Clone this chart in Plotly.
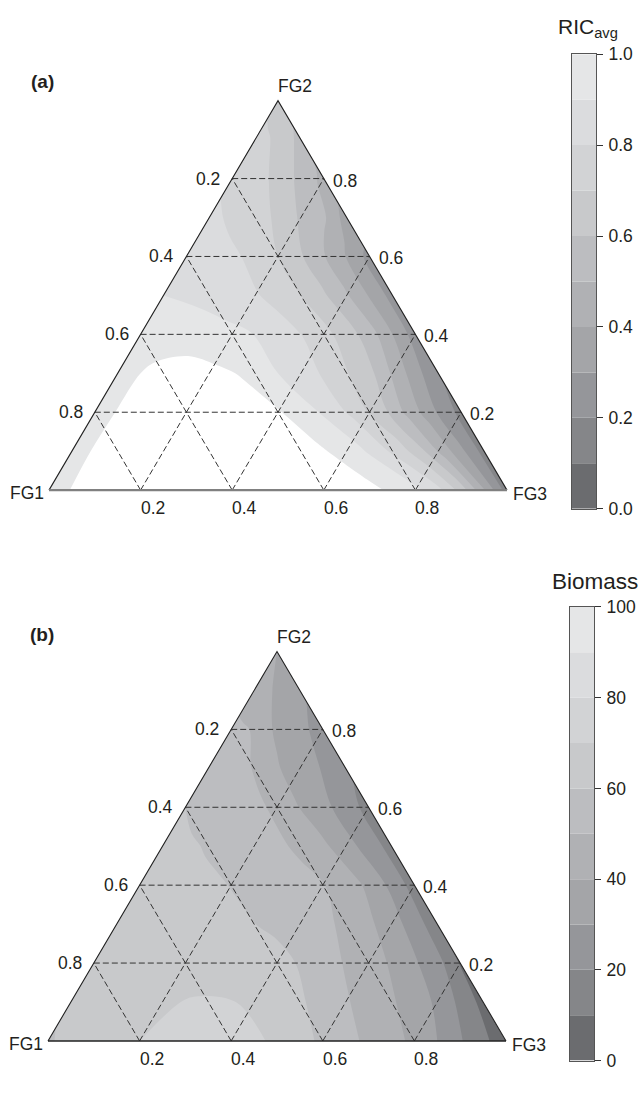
import numpy as np
import plotly.graph_objects as go

# ---------------- data ----------------
# ternary sampling grid: rows = FG2 share, columns = FG3 / (FG1 + FG3)
fg2_rows = [0.0, 0.1, 0.2, 0.3, 0.4, 0.5, 0.6, 0.7, 0.8, 0.9, 1.0]
fg3_frac_cols = [0.0, 0.1, 0.2, 0.3, 0.4, 0.5, 0.6, 0.7, 0.8, 0.85, 0.9, 0.95, 1.0]

# panel (a): RIC_avg (values > 1.0 appear white)
ric_avg = [
    [0.95, 1.06, 1.08, 1.08, 1.08, 1.07, 1.05, 1.03, 0.93, 0.83, 0.66, 0.41, 0.15],
    [0.95, 1.06, 1.08, 1.08, 1.07, 1.05, 1.02, 0.92, 0.742, 0.618, 0.46, 0.31, 0.16],
    [0.95, 1.04, 1.05, 1.05, 1.04, 1.01, 0.91, 0.78, 0.60, 0.48, 0.375, 0.26, 0.17],
    [0.95, 1.02, 1.04, 1.02, 0.99, 0.90, 0.83, 0.725, 0.60, 0.50, 0.40, 0.30, 0.21],
    [0.93, 0.95, 0.95, 0.93, 0.905, 0.85, 0.79, 0.70, 0.59, 0.52, 0.43, 0.34, 0.25],
    [0.90, 0.89, 0.87, 0.845, 0.81, 0.765, 0.70, 0.615, 0.51, 0.455, 0.39, 0.32, 0.27],
    [0.86, 0.84, 0.82, 0.80, 0.75, 0.70, 0.63, 0.55, 0.465, 0.42, 0.37, 0.31, 0.28],
    [0.82, 0.80, 0.78, 0.75, 0.72, 0.68, 0.62, 0.57, 0.52, 0.50, 0.45, 0.40, 0.37],
    [0.78, 0.77, 0.75, 0.73, 0.70, 0.67, 0.63, 0.59, 0.55, 0.53, 0.51, 0.49, 0.45],
    [0.74, 0.73, 0.715, 0.705, 0.69, 0.67, 0.65, 0.63, 0.61, 0.60, 0.59, 0.58, 0.57],
    [0.66, 0.66, 0.66, 0.66, 0.66, 0.66, 0.66, 0.66, 0.66, 0.66, 0.66, 0.66, 0.66],
]

# panel (b): Biomass
biomass = [
    [59, 66, 70, 74, 73, 69, 58, 48, 38, 30, 21, 12, 5],
    [62, 66, 69, 70.5, 70, 67, 57, 48, 39, 33, 27, 16, 7],
    [65, 66, 67, 67, 66, 63, 57, 48, 40, 35, 28, 21, 9],
    [65, 65, 64.5, 63, 61, 58, 54, 49, 40.5, 35, 29, 22, 12],
    [64, 63, 61.5, 60.5, 58, 56, 53, 49, 41, 36, 29.5, 23, 15],
    [62, 61, 59.5, 57, 54.5, 52, 48, 42, 35, 30, 26, 21, 16],
    [60, 58, 56, 54, 51.5, 48, 41, 36, 30, 27, 24, 20, 18],
    [57, 55, 53, 50.5, 47, 41, 37, 34, 30.5, 28.5, 26, 23.5, 21],
    [52, 51, 50, 46, 41.5, 38.5, 36, 34, 31.5, 30, 28.5, 27, 25],
    [46, 45, 43.5, 42, 40, 38.5, 37, 35.5, 34, 33.5, 33, 32.5, 32],
    [40, 40, 40, 40, 40, 40, 40, 40, 40, 40, 40, 40, 40],
]

grid_ticks = [0.2, 0.4, 0.6, 0.8]
band_colors = ['#6b6c6f', '#858689', '#95969a', '#a4a5a8', '#b0b1b4',
               '#bcbdc0', '#c8c9cb', '#d2d3d5', '#dbdcde', '#e5e6e7']
ric_bands = [0.0, 0.1, 0.2, 0.3, 0.4, 0.5, 0.6, 0.7, 0.8, 0.9]
ric_band_size = 0.1
ric_ticks = [0.0, 0.2, 0.4, 0.6, 0.8, 1.0]
bio_bands = [0, 10, 20, 30, 40, 50, 60, 70, 80, 90]
bio_band_size = 10
bio_ticks = [0, 20, 40, 60, 80, 100]

# ---------------- helpers ----------------
SQ = np.sqrt(3) / 2
FONT = "Liberation Sans, Arial, Helvetica, sans-serif"
TXT = "#231f20"
FS = 17.5


def cart(fg2, fg3):
    return fg3 + fg2 / 2.0, fg2 * SQ


def discrete_scale(colors):
    n = len(colors) - 1
    sc = []
    for k, c in enumerate(colors):
        lo = max(0.0, (k - 0.5) / n)
        hi = min(1.0, (k + 0.5) / n)
        sc.append([lo, c])
        sc.append([hi, c])
    return sc


B = np.array(fg2_rows)[:, None]
A = np.array(fg3_frac_cols)[None, :]
X = ((1 - B) * A + B / 2.0)
Y = (B * SQ) * np.ones_like(A)

fig = go.Figure()

hidden_carpet_axis = dict(showgrid=False, showline=False, startline=False, endline=False,
                          showticklabels='none', minorgridcount=0, smoothing=0,
                          gridcolor='rgba(0,0,0,0)', linecolor='rgba(0,0,0,0)')


def add_panel(xa, ya, cid, z, start, end, size, colors, bottom_color, bottom_width):
    fig.add_trace(go.Carpet(a=fg3_frac_cols, b=fg2_rows, x=X.tolist(), y=Y.tolist(),
                            carpet=cid, xaxis=xa, yaxis=ya,
                            aaxis=hidden_carpet_axis, baxis=hidden_carpet_axis))
    fig.add_trace(go.Contourcarpet(a=fg3_frac_cols, b=fg2_rows, z=z, carpet=cid,
                                   xaxis=xa, yaxis=ya, autocontour=False,
                                   contours=dict(start=start, end=end, size=size,
                                                 coloring='fill', showlines=False),
                                   line=dict(width=0),
                                   colorscale=discrete_scale(colors), showscale=False))
    # dashed grid
    gx, gy = [], []
    for t in grid_ticks:
        for p, q in [(cart(t, 0), cart(t, 1 - t)),          # FG2 = t
                     (cart(0, t), cart(1 - t, t)),          # FG3 = t
                     (cart(0, 1 - t), cart(1 - t, 0))]:     # FG1 = t
            gx += [p[0], q[0], None]
            gy += [p[1], q[1], None]
    fig.add_trace(go.Scatter(x=gx, y=gy, mode='lines', xaxis=xa, yaxis=ya,
                             line=dict(color='#333333', width=1, dash='6px,3px'),
                             hoverinfo='skip', showlegend=False, cliponaxis=False))
    # outline
    v1, v2, v3 = cart(0, 0), cart(1, 0), cart(0, 1)
    fig.add_trace(go.Scatter(x=[v1[0], v2[0], v3[0]], y=[v1[1], v2[1], v3[1]],
                             mode='lines', xaxis=xa, yaxis=ya,
                             line=dict(color='#222222', width=1.1),
                             hoverinfo='skip', showlegend=False, cliponaxis=False))
    fig.add_trace(go.Scatter(x=[v1[0], v3[0]], y=[v1[1], v3[1]],
                             mode='lines', xaxis=xa, yaxis=ya,
                             line=dict(color=bottom_color, width=bottom_width),
                             hoverinfo='skip', showlegend=False, cliponaxis=False))
    # labels
    ann = []
    for t in grid_ticks:
        x0, y0 = cart(t, 0)
        ann.append(dict(x=x0, y=y0, text=f"{1 - t:.1f}", xanchor='right', yanchor='middle',
                        xshift=-10, yshift=0))
        x1, y1 = cart(t, 1 - t)
        ann.append(dict(x=x1, y=y1, text=f"{t:.1f}", xanchor='left', yanchor='middle',
                        xshift=7, yshift=-2))
        x2, y2 = cart(0, t)
        ann.append(dict(x=x2, y=y2, text=f"{t:.1f}", xanchor='left', yanchor='middle',
                        xshift=-2, yshift=-18))
    ann.append(dict(x=v2[0], y=v2[1], text="FG2", xanchor='left', yanchor='middle',
                    xshift=-2, yshift=15))
    ann.append(dict(x=v1[0], y=v1[1], text="FG1", xanchor='right', yanchor='middle',
                    xshift=-3, yshift=-3))
    ann.append(dict(x=v3[0], y=v3[1], text="FG3", xanchor='left', yanchor='middle',
                    xshift=4, yshift=-4))
    for a in ann:
        a.update(xref=xa, yref=ya, showarrow=False,
                 font=dict(family=FONT, size=FS, color=TXT))
        fig.add_annotation(**a)


add_panel('x', 'y', 'ca', ric_avg, 0.1, 1.0, 0.1, band_colors + ['#ffffff'], '#808080', 2.2)
add_panel('x2', 'y2', 'cb', biomass, 10, 90, 10, band_colors, '#222222', 1.5)

# colour bars drawn as stacked bars
fig.add_trace(go.Bar(x=[0] * len(ric_bands), y=[ric_band_size] * len(ric_bands), base=ric_bands,
                     width=1, marker=dict(color=band_colors, line=dict(width=0)),
                     xaxis='x3', yaxis='y3', hoverinfo='skip', showlegend=False))
fig.add_trace(go.Bar(x=[0] * len(bio_bands), y=[bio_band_size] * len(bio_bands), base=bio_bands,
                     width=1, marker=dict(color=band_colors, line=dict(width=0)),
                     xaxis='x4', yaxis='y4', hoverinfo='skip', showlegend=False))

W, H = 644, 1102
hidden = dict(visible=False, showgrid=False, zeroline=False)
scale = 458.0


def ydom(top_px, bot_px):
    return [1 - bot_px / H, 1 - top_px / H]


xa_dom = [0, 554 / W]
fig.update_layout(
    xaxis=dict(domain=xa_dom, range=[-49 / scale, -49 / scale + 554 / scale], **hidden),
    yaxis=dict(domain=ydom(40, 520), range=[-(520 - 489) / scale, (489 - 40) / scale], **hidden),
    xaxis2=dict(domain=xa_dom, range=[-48 / scale, -48 / scale + 554 / scale], **hidden),
    yaxis2=dict(domain=ydom(600, 1080), range=[-(1080 - 1050) / scale, (1050 - 600) / scale],
                **hidden),
)

cb_axis_x = dict(range=[-0.5, 0.5], showgrid=False, zeroline=False, showticklabels=False,
                 showline=True, mirror=True, linecolor='#555555', linewidth=1, ticks='')
cb_axis_y = dict(side='right', showgrid=False, zeroline=False, showline=True, mirror=True,
                 linecolor='#555555', linewidth=1, ticks='outside', ticklen=6,
                 tickcolor='#333333', tickfont=dict(family=FONT, size=FS, color=TXT),
                 ticklabelstandoff=2)
fig.update_layout(
    xaxis3=dict(domain=[572 / W, 596 / W], anchor='y3', **cb_axis_x),
    yaxis3=dict(domain=ydom(45, 508), anchor='x3', range=[0, 1], tickvals=ric_ticks,
                ticktext=[f"{v:.1f}" for v in ric_ticks], **cb_axis_y),
    xaxis4=dict(domain=[570 / W, 594 / W], anchor='y4', **cb_axis_x),
    yaxis4=dict(domain=ydom(608, 1070), anchor='x4', range=[0, 100], tickvals=bio_ticks,
                ticktext=[str(v) for v in bio_ticks], **cb_axis_y),
)

fig.add_annotation(x=588 / W, y=1 - 18 / H, xref='paper', yref='paper', showarrow=False,
                   text="RIC<sub>avg</sub>", xanchor='center', yanchor='middle',
                   font=dict(family=FONT, size=21, color=TXT))
fig.add_annotation(x=595 / W, y=1 - 582 / H, xref='paper', yref='paper', showarrow=False,
                   text="Biomass", xanchor='center', yanchor='middle',
                   font=dict(family=FONT, size=22.5, color=TXT))
fig.add_annotation(x=42 / W, y=1 - 73 / H, xref='paper', yref='paper', showarrow=False,
                   text="<b>(a)</b>", xanchor='center', yanchor='middle',
                   font=dict(family=FONT, size=19, color=TXT))
fig.add_annotation(x=42 / W, y=1 - 636 / H, xref='paper', yref='paper', showarrow=False,
                   text="<b>(b)</b>", xanchor='center', yanchor='middle',
                   font=dict(family=FONT, size=19, color=TXT))

fig.update_layout(width=W, height=H, margin=dict(l=0, r=0, t=0, b=0),
                  paper_bgcolor='white', plot_bgcolor='white', showlegend=False,
                  barmode='overlay')

fig.write_html("out.html", config={'displayModeBar': False},
               post_script="document.body.style.margin='0px';"
                           "document.body.style.overflow='hidden';"
                           "document.documentElement.style.overflow='hidden';")
